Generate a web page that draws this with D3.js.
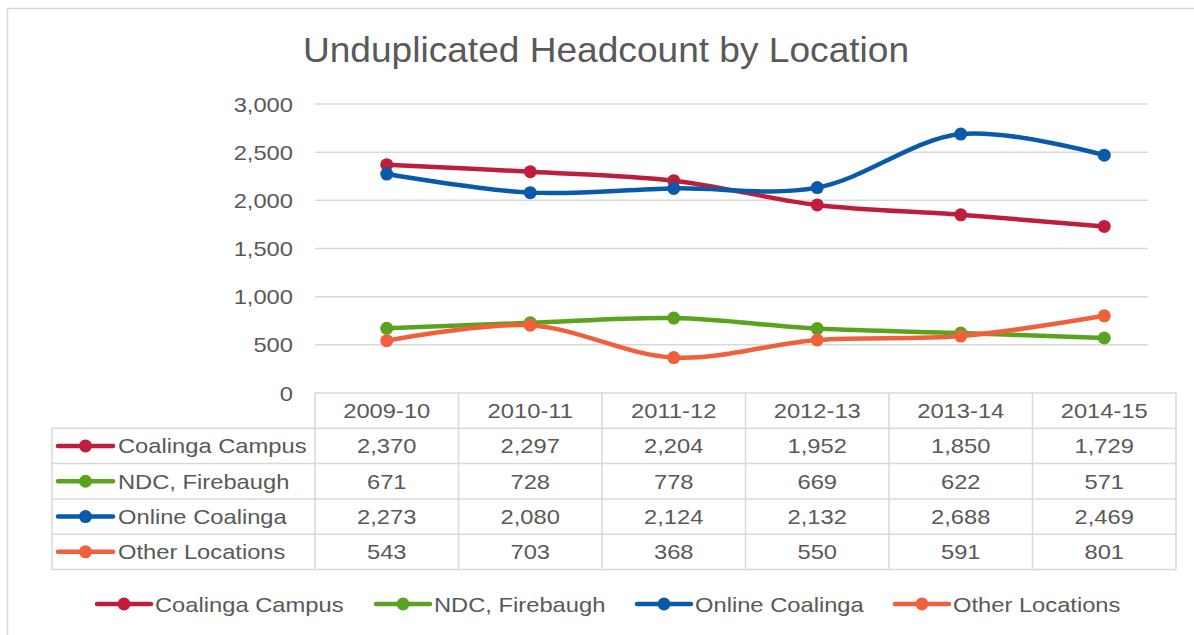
<!DOCTYPE html>
<html>
<head>
  <title>Unduplicated Headcount by Location</title>
  <style>
    body { margin: 0; background: #fff; }
    svg { display: block; font-family: "Liberation Sans", Arial, sans-serif; }
    text { fill: #595959; }
  </style>
</head>
<body>
  <script src="https://d3js.org/d3.v7.min.js"></script>
  <script>
// chart data
const years = ["2009-10", "2010-11", "2011-12", "2012-13", "2013-14", "2014-15"];
const seriesNames = ["Coalinga Campus", "NDC, Firebaugh", "Online Coalinga", "Other Locations"];
const coalinga = [2370, 2297, 2204, 1952, 1850, 1729];
const ndc = [671, 728, 778, 669, 622, 571];
const online = [2273, 2080, 2124, 2132, 2688, 2469];
const other = [543, 703, 368, 550, 591, 801];
const yTicks = [0, 500, 1000, 1500, 2000, 2500, 3000];
const colors = ["#BE1E3C", "#5BA31F", "#0A5AAB", "#F0603C"];

const series = [coalinga, ndc, online, other].map((v, i) => ({ name: seriesNames[i], values: v, color: colors[i] }));

const width = 1194, height = 635;
const plot = { left: 315, right: 1176, top: 104, bottom: 393 };
const rowH = 35.3;
const grid = "#d9d9d9";
const fmt = d3.format(",");

// the source font is a bit wider than Liberation Sans, so stretch text horizontally
function label(parent, x, y, str, opts = {}) {
  const size = opts.size || 21, sx = opts.sx || 1.13;
  return parent.append("text")
    .attr("transform", `translate(${x},${y}) scale(${sx},1)`)
    .attr("text-anchor", opts.anchor || "start")
    .attr("font-size", size)
    .text(str);
}

const svg = d3.select("body").append("svg")
  .attr("width", width)
  .attr("height", height);

// outer frame
svg.append("rect")
  .attr("x", 7.5).attr("y", 8.5)
  .attr("width", 1200).attr("height", 640)
  .attr("fill", "none").attr("stroke", grid).attr("stroke-width", 1.5);

// title
label(svg, 606, 62, "Unduplicated Headcount by Location", { size: 35, sx: 1.06, anchor: "middle" });

const x = d3.scaleBand().domain(years).range([plot.left, plot.right]);
const y = d3.scaleLinear().domain([0, 3000]).range([plot.bottom, plot.top]);
const cx = i => x(years[i]) + x.bandwidth() / 2;

// gridlines
svg.append("g").selectAll("line")
  .data(yTicks.filter(d => d > 0))
  .enter().append("line")
  .attr("x1", plot.left).attr("x2", 1148)
  .attr("y1", d => y(d)).attr("y2", d => y(d))
  .attr("stroke", grid).attr("stroke-width", 1.5);

// y axis labels
const yAxis = svg.append("g");
yTicks.forEach(t => label(yAxis, 293, y(t) + 7.5, fmt(t), { anchor: "end" }));

// data table
const table = svg.append("g");
const tableLeft = 52;
const tableBottom = plot.bottom + rowH * 5;

table.append("line")
  .attr("x1", plot.left).attr("x2", plot.right)
  .attr("y1", plot.bottom).attr("y2", plot.bottom)
  .attr("stroke", grid).attr("stroke-width", 1.5);
x.domain().concat(["end"]).forEach((yr, i) => {
  const vx = i < years.length ? x(yr) : plot.right;
  table.append("line")
    .attr("x1", vx).attr("x2", vx)
    .attr("y1", plot.bottom).attr("y2", tableBottom)
    .attr("stroke", grid).attr("stroke-width", 1.5);
});
years.forEach((yr, j) => label(table, cx(j), plot.bottom + rowH / 2 + 7.5, yr, { anchor: "middle" }));

series.forEach((s, i) => {
  const ry = plot.bottom + rowH * (i + 1);
  table.append("line")
    .attr("x1", tableLeft).attr("x2", plot.right)
    .attr("y1", ry).attr("y2", ry)
    .attr("stroke", grid).attr("stroke-width", 1.5);
  const my = ry + rowH / 2;
  table.append("line")
    .attr("x1", 58).attr("x2", 113).attr("y1", my).attr("y2", my)
    .attr("stroke", s.color).attr("stroke-width", 4.5).attr("stroke-linecap", "round");
  table.append("circle").attr("cx", 85.5).attr("cy", my).attr("r", 6.5).attr("fill", s.color);
  label(table, 118, my + 7.5, s.name);
  s.values.forEach((v, j) => label(table, cx(j), my + 7.5, fmt(v), { anchor: "middle" }));
});
table.append("line")
  .attr("x1", tableLeft).attr("x2", plot.right)
  .attr("y1", tableBottom).attr("y2", tableBottom)
  .attr("stroke", grid).attr("stroke-width", 1.5);
table.append("line")
  .attr("x1", tableLeft).attr("x2", tableLeft)
  .attr("y1", plot.bottom + rowH).attr("y2", tableBottom)
  .attr("stroke", grid).attr("stroke-width", 1.5);

// lines
const line = d3.line()
  .x((d, i) => cx(i))
  .y(d => y(d))
  .curve(d3.curveCatmullRom.alpha(0.5));

const lines = svg.append("g");
series.forEach(s => {
  lines.append("path")
    .datum(s.values)
    .attr("d", line)
    .attr("fill", "none")
    .attr("stroke", s.color)
    .attr("stroke-width", 4.5)
    .attr("stroke-linecap", "round");
  lines.selectAll(null)
    .data(s.values)
    .enter().append("circle")
    .attr("cx", (d, i) => cx(i))
    .attr("cy", d => y(d))
    .attr("r", 6.5)
    .attr("fill", s.color);
});

// bottom legend
const legendX = [97, 376, 637, 895];
const legend = svg.append("g");
series.forEach((s, i) => {
  const lx = legendX[i], ly = 604;
  legend.append("line")
    .attr("x1", lx).attr("x2", lx + 54).attr("y1", ly).attr("y2", ly)
    .attr("stroke", s.color).attr("stroke-width", 4.5).attr("stroke-linecap", "round");
  legend.append("circle").attr("cx", lx + 27).attr("cy", ly).attr("r", 6.5).attr("fill", s.color);
  label(legend, lx + 58, ly + 7.5, s.name);
});
  </script>
</body>
</html>
